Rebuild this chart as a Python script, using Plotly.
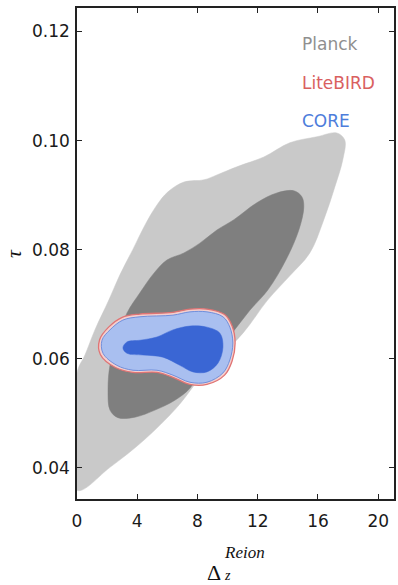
import plotly.graph_objects as go

# ---- data: contour boundaries (x = Delta_z^Reion, y = tau) ----
planck95_x = [0, 0, 0.53, 1.19, 2.12, 2.85, 3.72, 4.51, 5.31, 6.04, 7.10, 8.43, 9.29, 10.62,
              12.41, 14.13, 15.93, 17.25, 17.78, 17.65, 17.12, 16.39, 15.46, 14.13, 12.67,
              11.02, 8.43, 6.64, 4.45, 2.19]
planck95_y = [0.0359, 0.0574, 0.0607, 0.0653, 0.0708, 0.0754, 0.0801, 0.0845, 0.0882, 0.0906,
              0.0924, 0.0928, 0.0937, 0.0952, 0.0970, 0.0996, 0.1007, 0.1014, 0.1001, 0.0965,
              0.0915, 0.0855, 0.0794, 0.0752, 0.0708, 0.0647, 0.0574, 0.0511, 0.0451, 0.0401]

planck68_x = [2.06, 2.19, 2.65, 3.32, 4.18, 5.11, 5.97, 7.10, 8.16, 9.29, 10.42, 11.94, 13.27,
              14.40, 14.93, 15.06, 14.73, 13.87, 12.67, 11.48, 10.29, 9.16, 8.16, 7.50, 6.50,
              5.18, 3.85, 2.72, 2.19]
planck68_y = [0.0543, 0.0588, 0.0634, 0.0684, 0.0721, 0.0757, 0.0781, 0.0794, 0.0812, 0.0836,
              0.0855, 0.0886, 0.0904, 0.0908, 0.0897, 0.0878, 0.0836, 0.0781, 0.0726, 0.0689,
              0.0647, 0.0612, 0.0576, 0.0546, 0.0524, 0.0506, 0.0493, 0.0492, 0.0506]

litebird95_x = [2.10, 3.00, 4.18, 6.37, 7.50, 8.63, 9.80, 10.30, 10.50, 10.30, 9.80, 8.63, 7.50,
                6.37, 5.31, 3.72, 2.55, 1.55, 1.50]
litebird95_y = [0.0658, 0.0676, 0.0682, 0.0685, 0.0691, 0.0691, 0.0681, 0.0660, 0.0629, 0.0596,
                0.0570, 0.0553, 0.0553, 0.0566, 0.0575, 0.0575, 0.0584, 0.0608, 0.0635]

core95_x = [2.19, 3.05, 4.18, 6.37, 7.50, 8.63, 9.69, 10.15, 10.35, 10.15, 9.69, 8.63, 7.50,
            6.37, 5.31, 3.72, 2.65, 1.73, 1.66]
core95_y = [0.0653, 0.0671, 0.0677, 0.0680, 0.0686, 0.0686, 0.0677, 0.0658, 0.0629, 0.0598,
            0.0574, 0.0557, 0.0557, 0.0570, 0.0579, 0.0579, 0.0588, 0.0610, 0.0634]

core68_x = [3.05, 3.32, 4.18, 5.31, 6.37, 7.50, 8.63, 9.49, 9.69, 9.36, 8.63, 7.70, 6.83,
            5.71, 4.38, 3.32]
core68_y = [0.0620, 0.0631, 0.0634, 0.0640, 0.0653, 0.0660, 0.0658, 0.0647, 0.0621, 0.0592,
            0.0576, 0.0576, 0.0588, 0.0603, 0.0607, 0.0610]

x_ticks = [0, 4, 8, 12, 16, 20]
y_ticks = [0.04, 0.06, 0.08, 0.10, 0.12]
x_range = [0, 21.05]
y_range = [0.0343, 0.1243]

legend_names = ["Planck", "LiteBIRD", "CORE"]
legend_colors = ["#8f8f8f", "#d9605f", "#4d7ddb"]


def closed(xs, ys):
    return list(xs) + [xs[0]], list(ys) + [ys[0]]


fig = go.Figure()


def add_region(xs, ys, fill, line_color, line_width):
    cx, cy = closed(xs, ys)
    fig.add_trace(go.Scatter(
        x=cx, y=cy, mode="lines", fill="toself", fillcolor=fill,
        line=dict(color=line_color, width=line_width, shape="spline", smoothing=1.0),
        hoverinfo="skip", showlegend=False))


add_region(planck95_x, planck95_y, "#c9c9c9", "#c9c9c9", 0.5)
add_region(planck68_x, planck68_y, "#7f7f7f", "#7f7f7f", 0.5)
add_region(litebird95_x, litebird95_y, "#f3cfcf", "#e07474", 1.3)
add_region(core95_x, core95_y, "#a9bff0", "#6f8fdc", 1.0)
add_region(core68_x, core68_y, "#3a66d4", "#3a66d4", 0.5)

axis_common = dict(
    showgrid=False, zeroline=False, showline=True, linecolor="#222222", linewidth=1.5,
    mirror="ticks", ticks="inside", ticklen=5, tickwidth=1, tickcolor="#222222",
    tickfont=dict(family="DejaVu Sans", size=17, color="#1a1a1a"), automargin=False,
)

fig.update_xaxes(range=x_range, tickvals=x_ticks, ticktext=[str(v) for v in x_ticks],
                 ticklabelstandoff=6, **axis_common)
fig.update_yaxes(range=y_range, tickvals=y_ticks, ticktext=["%.2f" % v for v in y_ticks],
                 ticklabelstandoff=2, **axis_common)

# legend-like coloured labels
for i, (name, col) in enumerate(zip(legend_names, legend_colors)):
    fig.add_annotation(xref="paper", yref="paper", x=0.703, y=[0.927, 0.847, 0.770][i],
                       xanchor="left", yanchor="middle", showarrow=False, text=name,
                       font=dict(family="DejaVu Sans", size=17, color=col))

# axis titles
fig.add_annotation(xref="paper", yref="paper", x=0.432, y=-0.1487, showarrow=False,
                   xanchor="center", yanchor="middle", text="Δ",
                   font=dict(family="Liberation Serif", size=22, color="#111111"))
fig.add_annotation(xref="paper", yref="paper", x=0.458, y=-0.108, showarrow=False,
                   xanchor="left", yanchor="middle", text="<i>Reion</i>",
                   font=dict(family="Liberation Serif", size=17, color="#111111"))
fig.add_annotation(xref="paper", yref="paper", x=0.458, y=-0.155, showarrow=False,
                   xanchor="left", yanchor="middle", text="<i>z</i>",
                   font=dict(family="Liberation Serif", size=14, color="#111111"))
fig.add_annotation(xref="paper", yref="paper", x=-0.202, y=0.501, showarrow=False,
                   xanchor="center", yanchor="middle", text="<i>τ</i>", textangle=-90,
                   font=dict(family="Liberation Serif", size=22, color="#111111"))

fig.update_layout(
    width=398, height=585,
    margin=dict(l=77, r=4, t=8, b=86),
    paper_bgcolor="white", plot_bgcolor="white",
    showlegend=False,
)

fig.write_html(
    "out.html",
    config={"displayModeBar": False},
    post_script="document.body.style.margin='0';document.body.style.overflow='hidden';",
)
